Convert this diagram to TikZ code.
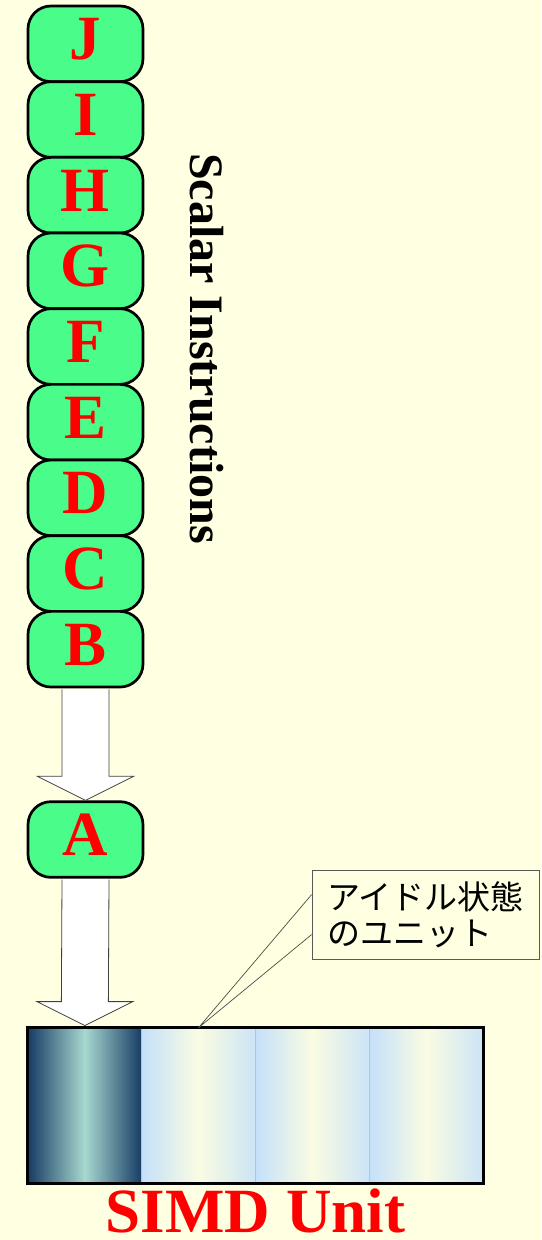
\documentclass[tikz,border=0pt]{standalone}
\usepackage{fontspec}
\setmainfont{Liberation Serif}
\newfontfamily\jpfont{Noto Sans CJK JP}
\usetikzlibrary{calc}
\definecolor{bg}{RGB}{255,255,225}
\definecolor{boxgreen}{RGB}{74,252,138}
\definecolor{navy}{RGB}{22,60,100}
\definecolor{teal}{RGB}{168,216,208}
\definecolor{lblue}{RGB}{196,224,250}
\definecolor{lblueb}{RGB}{204,228,246}
\definecolor{lyellow}{RGB}{250,252,226}
\definecolor{divider}{RGB}{176,196,222}
\tikzset{
  instr/.style={draw=black, line width=2.7pt, fill=boxgreen, rounded corners=23pt,
    minimum width=115pt, minimum height=75.67pt, inner sep=0pt,
    text height=42pt, text depth=10pt, text=red,
    font=\fontsize{63}{63}\selectfont\bfseries},
  blockarrow/.style={draw=black!75, line width=0.8pt, fill=white},
  cell/.style={draw=divider, line width=0.8pt, minimum width=113.75pt, minimum height=155pt, inner sep=0pt},
  cellone/.style={left color=navy, right color=navy, middle color=teal},
  cellother/.style={left color=lblue, right color=lblueb, middle color=lyellow},
  calloutbox/.style={draw=black!65, line width=0.8pt, fill=bg, minimum width=227pt,
    minimum height=89pt, align=left, inner sep=0pt,
    font=\jpfont\fontsize{33}{36}\selectfont},
}
\begin{document}
\begin{tikzpicture}[x=1pt,y=-1pt]
\fill[bg] (0,0) rectangle (541,1240);
\useasboundingbox (0,0) rectangle (541,1240);

% instruction boxes (positions only)
\foreach \n/\k in {J/0,I/1,H/2,G/3,F/4,E/5,D/6,C/7,B/8}{
  \coordinate (p\n) at (85.5,{6+75.67*(\k+0.5)});
}
\coordinate (pA) at (85.5,839.5);

% SIMD cells
\node[cell, cellone]   (c1) at (84.875,1105.5) {};
\node[cell, cellother] (c2) at (198.625,1105.5) {};
\node[cell, cellother] (c3) at (312.375,1105.5) {};
\node[cell, cellother] (c4) at (426.125,1105.5) {};
\draw[line width=2.8pt] (c1.north west) rectangle (c4.south east);

% boxes
\node[instr] (J) at (pJ) {J};
\node[instr] (I) at (pI) {I};
\node[instr] (H) at (pH) {H};
\node[instr] (G) at (pG) {G};
\node[instr] (F) at (pF) {F};
\node[instr] (E) at (pE) {E};
\node[instr] (D) at (pD) {D};
\node[instr] (C) at (pC) {C};
\node[instr] (B) at (pB) {B};
\node[instr] (A) at (pA) {A};

% block arrows
\draw[blockarrow] ($(B.south)+(-23.5,1)$) -- ($(A.north)+(-23.5,-24)$) -- ($(A.north)+(-48,-24)$)
  -- (A.north) -- ($(A.north)+(48,-24)$) -- ($(A.north)+(23.5,-24)$) -- ($(B.south)+(23.5,1)$);
\draw[blockarrow] ($(A.south)+(-23.5,1)$) -- ($(c1.north)+(-23.5,-26)$) -- ($(c1.north)+(-48,-26)$)
  -- ($(c1.north)+(0,-2)$) -- ($(c1.north)+(48,-26)$) -- ($(c1.north)+(23.5,-26)$) -- ($(A.south)+(23.5,1)$);

% label
\node[anchor=base west, rotate=-90, inner sep=0pt, font=\fontsize{48}{48}\selectfont\bfseries] (scalar) at (190,153) {Scalar Instructions};
\node[anchor=base, inner sep=0pt, text=red, font=\fontsize{63}{63}\selectfont\bfseries] (simd) at (255.5,1232) {SIMD Unit};

% callout
\node[calloutbox] (call) at (425.5,914.5) {アイドル状態\\のユニット};
\filldraw[fill=bg, draw=black!70, line width=0.7pt] ($(call.north west)+(0,25)$) -- (c2.north) -- ($(call.north west)+(0,65)$);
\end{tikzpicture}
\end{document}
